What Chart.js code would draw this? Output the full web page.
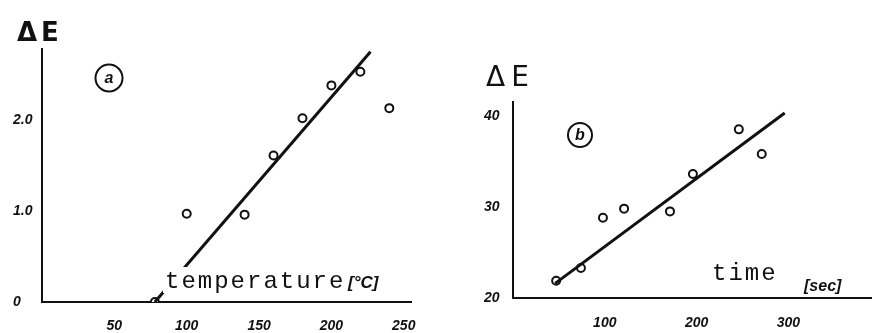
<!DOCTYPE html>
<html>
<head>
<meta charset="utf-8">
<script src="https://cdn.jsdelivr.net/npm/chart.js@4"></script>
<style>
  body { margin: 0; background: #fff; }
  #wrap { position: relative; width: 877px; height: 333px; }
  canvas { position: absolute; top: 0; }
  #chart_a { left: 0; }
  #chart_b { left: 438px; }
</style>
</head>
<body>
<div id="wrap">
  <canvas id="chart_a" width="438" height="333"></canvas>
  <canvas id="chart_b" width="439" height="333"></canvas>
</div>
<script>
// panel (a): dE vs temperature
var tempA = [78, 100, 140, 160, 180, 200, 220, 240];
var deltaA = [0, 0.97, 0.96, 1.61, 2.02, 2.38, 2.53, 2.13];
var fitTempA = [78, 227];
var fitDeltaA = [0, 2.75];
var xTicksA = [50, 100, 150, 200, 250];
var xLabelsA = ["50", "100", "150", "200", "250"];
var yTicksA = [0, 1, 2];
var yLabelsA = ["0", "1.0", "2.0"];

// panel (b): dE vs time
var timeB = [47, 74, 98, 121, 171, 196, 246, 271];
var deltaB = [21.9, 23.3, 28.8, 29.8, 29.5, 33.6, 38.5, 35.8];
var fitTimeB = [46, 296];
var fitDeltaB = [21.6, 40.3];
var xTicksB = [100, 200, 300];
var xLabelsB = ["100", "200", "300"];
var yTicksB = [20, 30, 40];
var yLabelsB = ["20", "30", "40"];

var tickFont = { family: "Liberation Sans", size: 14, style: "italic", weight: "bold" };

function pairs(xs, ys) {
    var out = [];
    for (var i = 0; i < xs.length; i += 1) {
        out.push({ x: xs[i], y: ys[i] });
    }
    return out;
}

function fixed_ticks(values, labels) {
    return {
        afterBuildTicks: function (scale) {
            scale.ticks = values.map(function (v) { return { value: v }; });
        },
        callback: function (value) {
            var i = values.indexOf(value);
            return i < 0 ? "" : labels[i];
        }
    };
}

function notes_plugin(draw) {
    return { id: "notes", afterDraw: function (chart) {
        var ctx = chart.ctx;
        ctx.save();
        ctx.fillStyle = "#111";
        ctx.strokeStyle = "#111";
        draw(ctx);
        ctx.restore();
    } };
}

function circled(ctx, x, y, r, letter) {
    ctx.lineWidth = 2;
    ctx.beginPath();
    ctx.arc(x, y, r, 0, Math.PI * 2);
    ctx.stroke();
    ctx.font = "italic bold 16px 'Liberation Sans'";
    ctx.textAlign = "center";
    ctx.textBaseline = "middle";
    ctx.fillText(letter, x, y + 1);
    ctx.textAlign = "left";
    ctx.textBaseline = "alphabetic";
}

function create_panel(id, cfg) {
    var ctx = document.getElementById(id);
    var ticksX = fixed_ticks(cfg.xTicks, cfg.xLabels);
    var ticksY = fixed_ticks(cfg.yTicks, cfg.yLabels);
    return new Chart(ctx, {
        type: "scatter",
        data: {
            datasets: [
                {
                    type: "line",
                    data: pairs(cfg.fitX, cfg.fitY),
                    borderColor: "#111",
                    borderWidth: 3,
                    pointRadius: 0,
                    fill: false
                },
                {
                    data: pairs(cfg.x, cfg.y),
                    pointRadius: 4,
                    pointBorderWidth: 2,
                    pointBorderColor: "#111",
                    pointBackgroundColor: "#fff"
                }
            ]
        },
        options: {
            responsive: false,
            animation: false,
            layout: { padding: cfg.padding },
            plugins: { legend: { display: false }, tooltip: { enabled: false } },
            scales: {
                x: {
                    type: "linear",
                    min: cfg.xMin,
                    max: cfg.xMax,
                    afterBuildTicks: ticksX.afterBuildTicks,
                    afterFit: function (s) { s.height = cfg.xHeight; },
                    grid: { display: false, drawTicks: false },
                    border: { display: true, color: "#111", width: 2 },
                    ticks: { callback: ticksX.callback, font: tickFont, color: "#111", padding: cfg.xPad, maxRotation: 0, autoSkip: false }
                },
                y: {
                    type: "linear",
                    min: cfg.yMin,
                    max: cfg.yMax,
                    afterBuildTicks: ticksY.afterBuildTicks,
                    afterFit: function (s) { s.width = cfg.yWidth; },
                    grid: { display: false, drawTicks: false },
                    border: { display: true, color: "#111", width: 2 },
                    ticks: { callback: ticksY.callback, font: tickFont, color: "#111", crossAlign: "far", autoSkip: false }
                }
            }
        },
        plugins: [notes_plugin(cfg.notes)]
    });
}

create_panel("chart_a", {
    x: tempA, y: deltaA, fitX: fitTempA, fitY: fitDeltaA,
    xTicks: xTicksA, xLabels: xLabelsA, yTicks: yTicksA, yLabels: yLabelsA,
    xMin: 0, xMax: 255, yMin: 0, yMax: 2.78,
    padding: { left: 13, right: 27, top: 49, bottom: 0 },
    yWidth: 29, xHeight: 31, xPad: 16,
    notes: function (ctx) {
        ctx.font = "bold 26px 'DejaVu Sans'";
        ctx.letterSpacing = "4px";
        ctx.fillText("\u0394E", 17, 41);
        ctx.letterSpacing = "0px";
        circled(ctx, 109, 78, 13.5, "a");
        ctx.fillStyle = "#fff";
        ctx.fillRect(163, 267, 230, 26);
        ctx.fillStyle = "#111";
        ctx.font = "24px 'Liberation Mono'";
        ctx.letterSpacing = "2px";
        ctx.fillText("temperature", 165, 288);
        ctx.letterSpacing = "0px";
        ctx.font = "italic bold 17px 'Liberation Sans'";
        ctx.fillText("[\u00b0C]", 348, 288);
    }
});

create_panel("chart_b", {
    x: timeB, y: deltaB, fitX: fitTimeB, fitY: fitDeltaB,
    xTicks: xTicksB, xLabels: xLabelsB, yTicks: yTicksB, yLabels: yLabelsB,
    xMin: 0, xMax: 390, yMin: 20, yMax: 41.5,
    padding: { left: 46, right: 5, top: 102, bottom: 0 },
    yWidth: 29, xHeight: 35, xPad: 17,
    notes: function (ctx) {
        ctx.font = "28px 'DejaVu Sans'";
        ctx.letterSpacing = "6px";
        ctx.fillText("\u0394E", 48, 86);
        ctx.letterSpacing = "0px";
        circled(ctx, 142, 135, 12, "b");
        ctx.font = "24px 'Liberation Mono'";
        ctx.letterSpacing = "2px";
        ctx.fillText("time", 274, 280);
        ctx.letterSpacing = "0px";
        ctx.font = "italic bold 16px 'Liberation Sans'";
        ctx.fillText("[sec]", 366, 291);
    }
});
</script>
</body>
</html>
